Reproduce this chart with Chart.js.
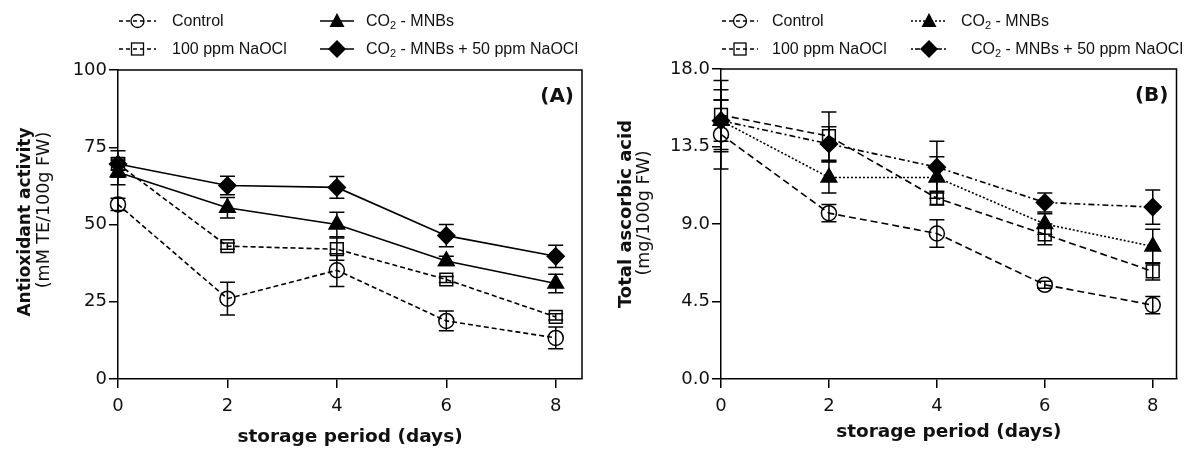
<!DOCTYPE html>
<html>
<head>
<meta charset="utf-8">
<script src="https://cdn.jsdelivr.net/npm/chart.js@4.4.1/dist/chart.umd.min.js"></script>
<style>
  html, body { margin: 0; padding: 0; background: #fff; }
  #wrap { position: relative; width: 1187px; height: 455px; overflow: hidden; }
  #wrap canvas { position: absolute; top: 0; }
  .sym { position: absolute; overflow: visible; }
  .txt { position: absolute; font: 16px "Liberation Sans", Arial, sans-serif; color: #111; line-height: 20px; white-space: nowrap; }
  .txt sub { font-size: 11px; vertical-align: -3px; line-height: 0; }
</style>
</head>
<body>
<div id="wrap">
  <canvas id="chartA" width="593" height="455" style="left:0"></canvas>
  <canvas id="chartB" width="594" height="455" style="left:593px"></canvas>
</div>
<script>
const days = [0, 2, 4, 6, 8];
const dayTicks = [0, 2, 4, 6, 8];
const seriesNames = ['Control', '100 ppm NaOCl', 'CO<sub>2</sub> - MNBs', 'CO<sub>2</sub> - MNBs + 50 ppm NaOCl'];

// (A) antioxidant activity, mM TE/100g FW
const antioxControl = [56.5, 26.0, 35.2, 18.8, 13.3];
const antioxControlSd = [2.0, 5.3, 5.3, 3.2, 3.5];
const antioxNaocl = [69.6, 43.0, 42.0, 32.2, 20.1];
const antioxNaoclSd = [2.0, 1.0, 3.6, 1.0, 1.0];
const antioxMnb = [66.9, 55.4, 50.0, 38.2, 30.9];
const antioxMnbSd = [4.0, 3.3, 4.0, 1.5, 3.0];
const antioxMix = [69.6, 62.6, 62.0, 46.4, 39.7];
const antioxMixSd = [4.3, 3.0, 3.5, 3.6, 3.6];
const antioxTicks = [0, 25, 50, 75, 100];

// (B) total ascorbic acid, mg/100g FW
const ascControl = [14.2, 9.63, 8.45, 5.47, 4.29];
const ascControlSd = [2.0, 0.5, 0.8, 0.2, 0.5];
const ascNaocl = [15.33, 14.1, 10.5, 8.4, 6.25];
const ascNaoclSd = [2.0, 1.4, 0.4, 0.6, 0.5];
const ascMnb = [15.0, 11.7, 11.7, 9.0, 7.7];
const ascMnbSd = [1.8, 0.9, 1.2, 0.6, 1.0];
const ascMix = [15.0, 13.65, 12.3, 10.25, 9.98];
const ascMixSd = [1.2, 1.0, 1.5, 0.55, 1.0];
const ascTicks = [0, 4.5, 9, 13.5, 18];

const markers = [
  { pointStyle: 'circle', pointRadius: 7.5, pointBackgroundColor: 'rgba(0,0,0,0)' },
  { pointStyle: 'rect', pointRadius: 9, pointBackgroundColor: 'rgba(0,0,0,0)' },
  { pointStyle: 'triangle', pointRadius: 9, pointBackgroundColor: '#000' },
  { pointStyle: 'rectRot', pointRadius: 8.5, pointBackgroundColor: '#000' },
];

function makeSet(i, values, sd, dash) {
  return {
    label: seriesNames[i].replace(/<\/?sub>/g, ''),
    data: days.map((d, j) => ({ x: d, y: values[j] })),
    errors: sd,
    borderColor: '#000',
    borderWidth: 1.6,
    borderDash: dash,
    pointBorderColor: '#000',
    pointBorderWidth: 1.5,
    pointHoverRadius: markers[i].pointRadius,
    ...markers[i],
    tension: 0,
    clip: false,
  };
}

// error bars drawn under the markers
const errorBars = {
  id: 'errorBars',
  beforeDatasetsDraw(chart) {
    const { ctx, scales: { x, y } } = chart;
    ctx.save();
    ctx.strokeStyle = '#000';
    ctx.lineWidth = 1.5;
    chart.data.datasets.forEach(ds => {
      ds.data.forEach((p, j) => {
        const e = ds.errors[j];
        const px = x.getPixelForValue(p.x);
        const top = y.getPixelForValue(p.y + e);
        const bot = y.getPixelForValue(p.y - e);
        ctx.beginPath();
        ctx.moveTo(px, top); ctx.lineTo(px, bot);
        ctx.moveTo(px - 7.5, top); ctx.lineTo(px + 7.5, top);
        ctx.moveTo(px - 7.5, bot); ctx.lineTo(px + 7.5, bot);
        ctx.stroke();
      });
    });
    ctx.restore();
  }
};

// box, panel tag and the two-line y title
const frame = {
  id: 'frame',
  afterDraw(chart, args, opts) {
    const { ctx, chartArea: a } = chart;
    ctx.save();
    ctx.strokeStyle = '#000';
    ctx.lineWidth = 1.5;
    ctx.beginPath();
    ctx.moveTo(a.left, a.top); ctx.lineTo(a.right, a.top); ctx.lineTo(a.right, a.bottom);
    ctx.stroke();

    ctx.fillStyle = '#111';
    ctx.font = 'bold 20px "DejaVu Sans"';
    ctx.textAlign = 'right';
    ctx.textBaseline = 'middle';
    ctx.fillText(opts.tag, a.right - 8, a.top + 27);

    ctx.textAlign = 'center';
    opts.lines.forEach(l => {
      ctx.save();
      ctx.translate(l.x, l.y);
      ctx.rotate(-Math.PI / 2);
      ctx.font = l.font;
      ctx.fillText(l.text, 0, 0);
      ctx.restore();
    });
    ctx.restore();
  }
};

const tickFont = { family: 'DejaVu Sans', size: 18 };
const axisGrid = { drawOnChartArea: false, drawTicks: true, tickLength: 9, color: '#000', lineWidth: 1.5 };
const axisBorder = { color: '#000', width: 1.5 };

function makeChart(id, datasets, cfg) {
  return new Chart(document.getElementById(id), {
    type: 'line',
    data: { datasets },
    plugins: [errorBars, frame],
    options: {
      responsive: false,
      animation: false,
      devicePixelRatio: 1,
      events: [],
      layout: { padding: { top: cfg.top, right: cfg.right, left: 0, bottom: 0 } },
      plugins: {
        legend: { display: false },
        tooltip: { enabled: false },
        frame: { tag: cfg.tag, lines: cfg.lines },
      },
      scales: {
        x: {
          type: 'linear',
          min: 0,
          max: cfg.xMax,
          afterBuildTicks: s => { s.ticks = dayTicks.map(v => ({ value: v })); },
          afterFit: s => { s.height = 76; },
          ticks: { font: tickFont, color: '#111', padding: 8 },
          grid: axisGrid,
          border: axisBorder,
          title: {
            display: true,
            text: 'storage period (days)',
            color: '#111',
            font: { family: 'DejaVu Sans', size: 18.5, weight: 'bold' },
            padding: { top: 0, bottom: cfg.titlePad },
          },
        },
        y: {
          min: 0,
          max: cfg.yTicks[cfg.yTicks.length - 1],
          afterBuildTicks: s => { s.ticks = cfg.yTicks.map(v => ({ value: v })); },
          afterFit: s => { s.width = cfg.left; },
          ticks: { font: tickFont, color: '#111', padding: 2, callback: cfg.fmt },
          grid: axisGrid,
          border: axisBorder,
        },
      },
    },
  });
}

makeChart('chartA', [
  makeSet(0, antioxControl, antioxControlSd, [5, 3]),
  makeSet(1, antioxNaocl, antioxNaoclSd, [5, 3]),
  makeSet(2, antioxMnb, antioxMnbSd, []),
  makeSet(3, antioxMix, antioxMixSd, []),
], {
  top: 70, right: 11, left: 118, xMax: 8.48, titlePad: 7, tag: '(A)',
  yTicks: antioxTicks, fmt: v => v,
  lines: [
    { text: 'Antioxidant activity', font: 'bold 17px "DejaVu Sans"', x: 26, y: 222 },
    { text: '(mM TE/100g FW)', font: '17.5px "DejaVu Sans"', x: 44, y: 210 },
  ],
});

makeChart('chartB', [
  makeSet(0, ascControl, ascControlSd, [7, 4]),
  makeSet(1, ascNaocl, ascNaoclSd, [7, 4]),
  makeSet(2, ascMnb, ascMnbSd, [2, 2]),
  makeSet(3, ascMix, ascMixSd, [6, 3, 2, 3]),
], {
  top: 69, right: 4, left: 128, xMax: 8.44, titlePad: 12, tag: '(B)',
  yTicks: ascTicks, fmt: v => v.toFixed(1),
  lines: [
    { text: 'Total ascorbic acid', font: 'bold 18px "DejaVu Sans"', x: 33, y: 214 },
    { text: '(mg/100g FW)', font: '17.5px "DejaVu Sans"', x: 51, y: 213 },
  ],
});

// legends: symbol span, text start and row centre, in page pixels
const legendItems = [
  { s: 0, x: 119, w: 37, tx: 172, y: 21, dash: '4,3' },
  { s: 1, x: 119, w: 37, tx: 172, y: 49, dash: '4,3' },
  { s: 2, x: 320, w: 34, tx: 366, y: 21, dash: '' },
  { s: 3, x: 320, w: 34, tx: 366, y: 49, dash: '' },
  { s: 0, x: 722, w: 36, tx: 772, y: 21, dash: '4,3' },
  { s: 1, x: 722, w: 36, tx: 772, y: 49, dash: '4,3' },
  { s: 2, x: 911, w: 36, tx: 961, y: 21, dash: '2,2' },
  { s: 3, x: 911, w: 36, tx: 971, y: 49, dash: '2,2,5,2' },
];

function symbolSvg(s, w, dash) {
  const c = w / 2;
  let mark = '';
  if (s === 0) mark = `<circle cx="${c}" cy="9" r="6.5" fill="none" stroke="#000" stroke-width="1.3"/>`;
  if (s === 1) mark = `<rect x="${c - 6}" y="3" width="12" height="12" fill="none" stroke="#000" stroke-width="1.3"/>`;
  if (s === 2) mark = `<polygon points="${c},1 ${c + 7.5},15 ${c - 7.5},15" fill="#000"/>`;
  if (s === 3) mark = `<polygon points="${c},0 ${c + 9},9 ${c},18 ${c - 9},9" fill="#000"/>`;
  const d = dash ? `stroke-dasharray="${dash}"` : '';
  return `<line x1="0" y1="9" x2="${w}" y2="9" stroke="#000" stroke-width="1.5" ${d}/>` + mark;
}

const wrap = document.getElementById('wrap');
legendItems.forEach(it => {
  const svg = document.createElementNS('http://www.w3.org/2000/svg', 'svg');
  svg.setAttribute('class', 'sym');
  svg.setAttribute('width', it.w);
  svg.setAttribute('height', 18);
  svg.style.left = it.x + 'px';
  svg.style.top = (it.y - 9) + 'px';
  svg.innerHTML = symbolSvg(it.s, it.w, it.dash);
  wrap.appendChild(svg);

  const t = document.createElement('div');
  t.className = 'txt';
  t.style.left = it.tx + 'px';
  t.style.top = (it.y - 10) + 'px';
  t.innerHTML = seriesNames[it.s];
  wrap.appendChild(t);
});
</script>
</body>
</html>
